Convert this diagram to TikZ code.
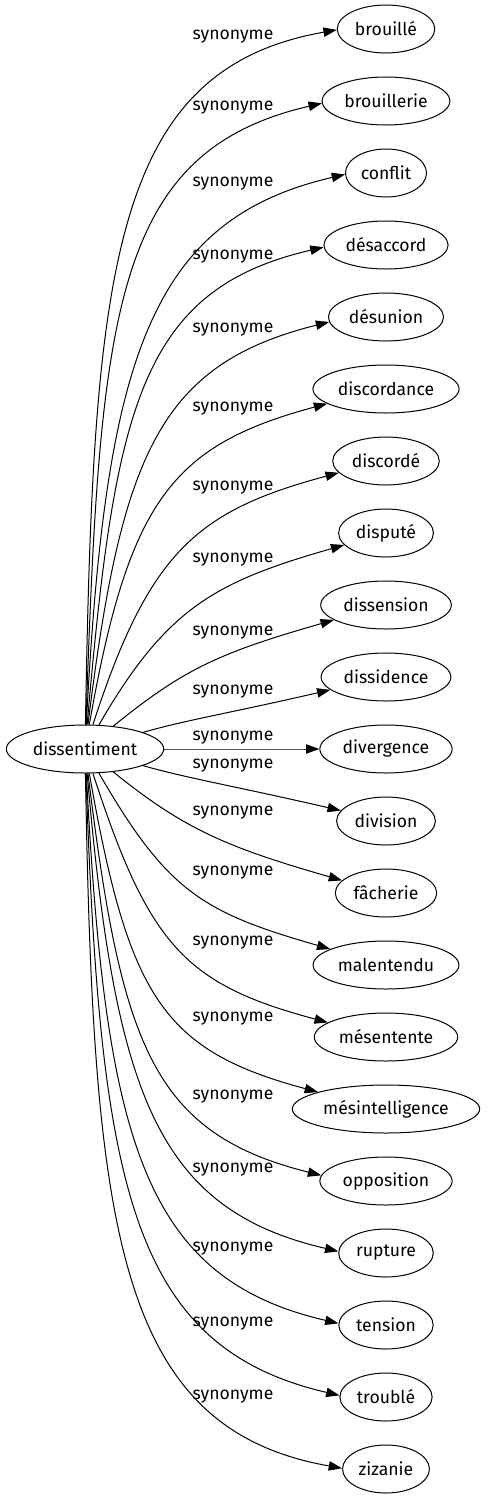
\documentclass[tikz,border=0pt]{standalone}
\usepackage{fontspec}
\setmainfont{Fira Sans}
\usetikzlibrary{shapes.geometric,arrows.meta}

\begin{document}
\begin{tikzpicture}[x=0.75pt,y=0.75pt,
    word/.style={ellipse,draw=black,line width=0.75pt,inner xsep=2.6pt,inner ysep=0pt,
        minimum height=36pt,font=\fontsize{13.2}{15}\selectfont},
    syn/.style={inner sep=0pt,font=\fontsize{13.2}{15}\selectfont},
    rel/.style={-{Triangle[length=10pt,width=7pt]},line width=0.75pt}]
\useasboundingbox (0,0) rectangle (488,-1499);
\node[word] (root) at (85,-749) {dissentiment};
% name/text/y/label y/start angle/end anchor/in angle
\foreach \nm/\txt/\ty/\ly/\sa/\ea/\ia in {
    brouille/brouillé/29/37/89/181/190,
    brouillerie/brouillerie/101/108/88/182/193,
    conflit/conflit/173/184/87/182/193,
    desaccord/désaccord/245/257/85/182/193,
    desunion/désunion/317/330/83/185/194,
    discordance/discordance/389/409/80/194/195,
    discorde/discordé/461/488/72/194/195,
    dispute/disputé/533/560/60/196/196,
    dissension/dissension/605/633/39/196/196,
    dissidence/dissidence/677/692/16/193/193,
    divergence/divergence/749/738/0/180/180,
    division/division/821/766/344/167/167,
    facherie/fâcherie/893/813/321/164/164,
    malentendu/malentendu/965/873/300/164/164,
    mesentente/mésentente/1037/943/288/166/165,
    mesintelligence/mésintelligence/1109/1019/280/166/165,
    opposition/opposition/1181/1097/277/175/166,
    rupture/rupture/1253/1170/275/178/167,
    tension/tension/1325/1249/273/178/167,
    trouble/troublé/1397/1324/272/178/167,
    zizanie/zizanie/1469/1397/271/179/170}
{
    \node[word] (\nm) at (386,-\ty) {\txt};
    \pgfmathsetmacro\dout{0.63*abs(749-\ty)}
    \pgfmathsetmacro\din{92.5+13.75*abs(749-\ty)/72}
    \draw[rel] (root.\sa) .. controls +(\sa:\dout) and +(\ia:\din) .. (\nm.\ea);
    \node[syn] (l\nm) at (233,-\ly) {synonyme};
}
\end{tikzpicture}
\end{document}
